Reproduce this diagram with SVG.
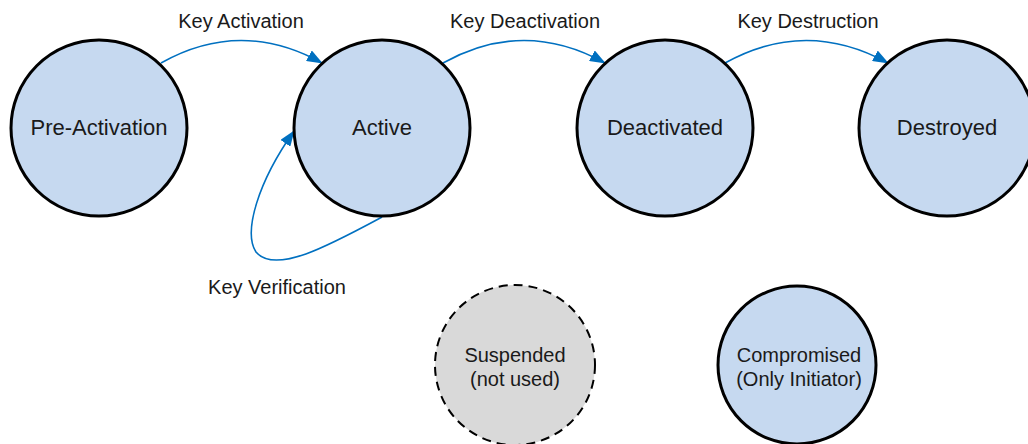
<svg xmlns="http://www.w3.org/2000/svg" width="1028" height="444" viewBox="0 0 1028 444">
<defs>
<style>
.st{fill:#c6d9f0;stroke:#000;stroke-width:3}
.sus{fill:#d9d9d9;stroke:#000;stroke-width:2;stroke-dasharray:9 6}
.t{font-family:"Liberation Sans",Arial,sans-serif;fill:#1a1a1a;text-anchor:middle}
.big{font-size:22px}
.sm{font-size:20px}
.lbl{font-size:20px}
.c{fill:none;stroke:#0070c0;stroke-width:1.6;marker-end:url(#ah)}
</style>
<marker id="ah" markerUnits="userSpaceOnUse" markerWidth="16" markerHeight="12" viewBox="0 0 16 12" refX="15" refY="6" orient="auto">
<path d="M0,0 L16,6 L0,12 Z" fill="#0070c0"/>
</marker>
</defs>
<g id="connectors">
<path class="c" d="M161,63 Q241,18 322,63"/>
<path class="c" d="M443,63 Q524,18 605,63"/>
<path class="c" d="M725,63 Q806,18 888,63"/>
<path class="c" d="M382,217 C330,245 275,275 256,252 C243,232 258,182 294,131"/>
</g>
<g id="labels">
<text class="t lbl" x="241" y="28">Key Activation</text>
<text class="t lbl" x="525" y="28">Key Deactivation</text>
<text class="t lbl" x="808" y="28">Key Destruction</text>
<text class="t lbl" x="277" y="294">Key Verification</text>
</g>
<g id="pre-activation">
<circle class="st" cx="99" cy="128" r="88"/>
<text class="t big" x="99" y="135">Pre-Activation</text>
</g>
<g id="active">
<circle class="st" cx="382" cy="128" r="88"/>
<text class="t big" x="382" y="135">Active</text>
</g>
<g id="deactivated">
<circle class="st" cx="665" cy="128" r="88"/>
<text class="t big" x="665" y="135">Deactivated</text>
</g>
<g id="destroyed">
<circle class="st" cx="947" cy="128" r="88"/>
<text class="t big" x="947" y="135">Destroyed</text>
</g>
<g id="suspended">
<circle class="sus" cx="515" cy="365" r="80"/>
<text class="t sm" x="515" y="362">Suspended</text>
<text class="t sm" x="515" y="386">(not used)</text>
</g>
<g id="compromised">
<circle class="st" cx="797" cy="365" r="79"/>
<text class="t sm" x="799" y="362">Compromised</text>
<text class="t sm" x="799" y="386">(Only Initiator)</text>
</g>
</svg>
